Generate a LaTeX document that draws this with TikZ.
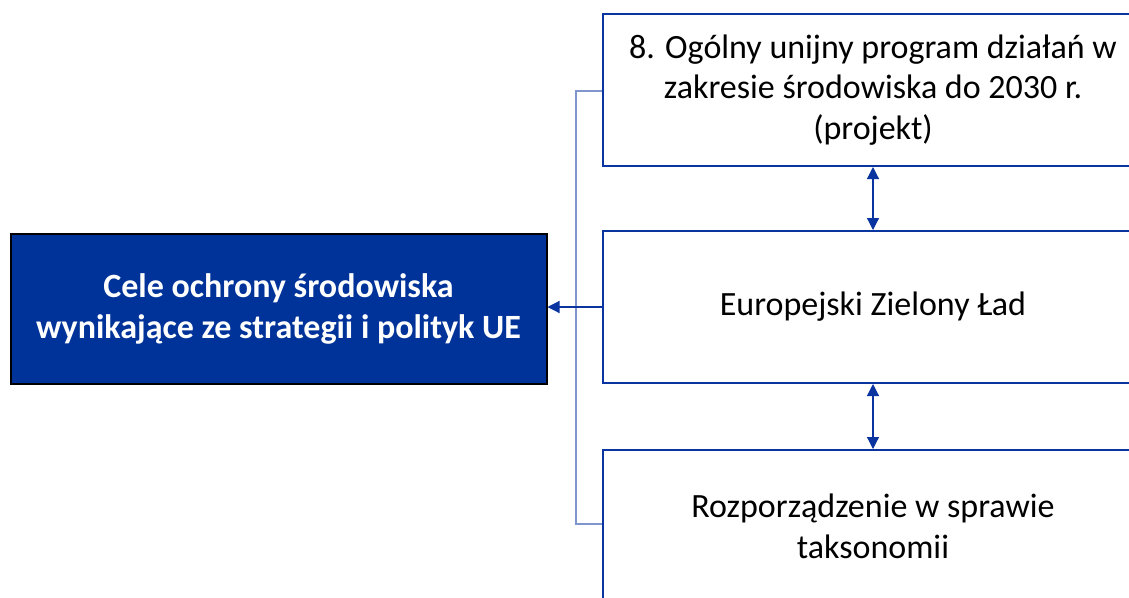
\documentclass[tikz,border=0pt]{standalone}
\usepackage{fontspec}
\setmainfont{Carlito}
\usetikzlibrary{arrows.meta}
\definecolor{ueblue}{HTML}{003399}
\definecolor{boxblue}{HTML}{0A34A0}
\definecolor{linkblue}{HTML}{7F95CE}
\tikzset{
  celbox/.style={draw=black, line width=1.5pt, fill=ueblue, text=white, font=\fontsize{25.5}{30.5}\selectfont\bfseries, align=center, minimum width=402pt, minimum height=113pt, inner sep=0pt},
  dokbox/.style={draw=boxblue, line width=1.5pt, fill=white, font=\fontsize{25.5}{30.5}\selectfont, align=center, minimum width=405pt, minimum height=114pt, inner sep=0pt},
  strzalka/.style={draw=boxblue, line width=0.9pt, -{Triangle[length=9pt,width=9pt]}},
  dwustr/.style={draw=boxblue, line width=0.9pt, {Triangle[length=9pt,width=9pt]}-{Triangle[length=9pt,width=9pt]}}
}
\begin{document}
\begin{tikzpicture}[x=0.75pt,y=-0.75pt]
  \useasboundingbox (0,0) rectangle (1129,597);
  \clip (0,0) rectangle (1129,597);
  \fill[white] (0,0) rectangle (1129,597);

  \node[celbox] (cele) at (278.5,309) {Cele ochrony środowiska\\wynikające ze strategii i polityk UE};

  \node[dokbox] (program) at (873,90) {8. Ogólny unijny program działań w\\zakresie środowiska do 2030 r.\\(projekt)};
  \node[dokbox] (lad) at (873,307) {Europejski Zielony Ład};
  \node[dokbox] (takso) at (873,526) {Rozporządzenie w sprawie\\taksonomii};

  \coordinate (gora) at (576,91);
  \coordinate (dol) at (576,524);
  \draw[linkblue, line width=1.1pt] (program.west |- gora) -- (gora) -- (dol) -- (takso.west |- dol);

  \draw[strzalka] (lad.west) -- (lad.west -| cele.east);
  \draw[dwustr] (program.south) -- (lad.north);
  \draw[dwustr] (lad.south) -- (takso.north);
\end{tikzpicture}
\end{document}
